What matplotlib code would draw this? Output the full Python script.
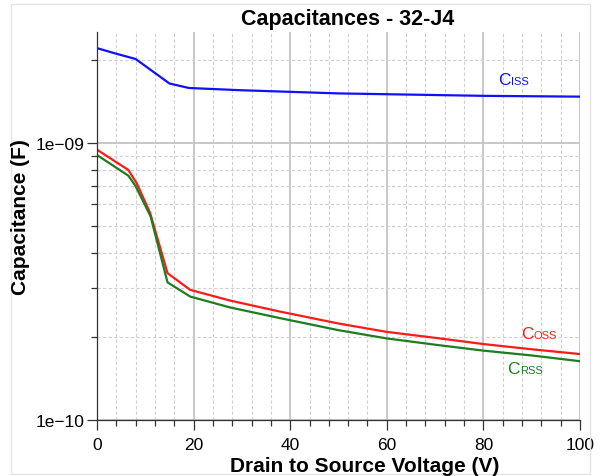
import matplotlib
matplotlib.use("Agg")
import matplotlib.pyplot as plt
from matplotlib.ticker import FixedLocator, NullFormatter, MultipleLocator
from matplotlib.patches import Rectangle

plt.rcParams['font.family'] = ['Liberation Sans', 'DejaVu Sans']

title = "Capacitances - 32-J4"
xlabel = "Drain to Source Voltage (V)"
ylabel = "Capacitance (F)"

ciss_v = [0, 4, 8, 15, 19, 30, 40, 50, 60, 70, 80, 90, 100]
ciss_c = [2.20e-9, 2.10e-9, 2.01e-9, 1.64e-9, 1.58e-9, 1.55e-9, 1.53e-9, 1.51e-9,
          1.50e-9, 1.49e-9, 1.48e-9, 1.475e-9, 1.47e-9]

coss_v = [0, 6.5, 8.3, 11, 14.6, 19.3, 27.5, 38, 50, 60, 70, 80, 90, 100]
coss_c = [9.46e-10, 7.99e-10, 7.11e-10, 5.59e-10, 3.39e-10, 2.95e-10, 2.70e-10,
          2.46e-10, 2.23e-10, 2.08e-10, 1.98e-10, 1.88e-10, 1.80e-10, 1.73e-10]

crss_v = [0, 6.5, 8, 11.1, 14.6, 19.3, 27.5, 38, 50, 60, 70, 80, 90, 100]
crss_c = [9.05e-10, 7.62e-10, 6.98e-10, 5.43e-10, 3.14e-10, 2.79e-10, 2.55e-10,
          2.33e-10, 2.11e-10, 1.97e-10, 1.87e-10, 1.78e-10, 1.71e-10, 1.63e-10]

xticks = [0, 20, 40, 60, 80, 100]
yticks = [1e-10, 1e-9]
ytick_labels = ["1e\u221210", "1e\u221209"]

fig = plt.figure(figsize=(6, 4.77), dpi=100)
fig.patches.append(Rectangle((11 / 600, 1 - 475 / 477), 579 / 600, 470 / 477,
                             transform=fig.transFigure, fill=False,
                             edgecolor='#e4e4e4', lw=1.0))

ax = fig.add_axes([97 / 600, 1 - 421 / 477, 483 / 600, 388 / 477])
ax.set_yscale('log')
ax.set_xlim(0, 100)
ax.set_ylim(1e-10, 2.516e-9)

ax.xaxis.set_major_locator(FixedLocator(xticks))
ax.xaxis.set_minor_locator(MultipleLocator(4))
ax.yaxis.set_major_locator(FixedLocator(yticks))
ax.yaxis.set_minor_locator(FixedLocator([k * 1e-10 for k in range(2, 10)] + [2e-9]))
ax.yaxis.set_minor_formatter(NullFormatter())
ax.set_yticklabels(ytick_labels)

ax.grid(True, which='major', color='#c4c4c4', lw=1.3, ls='-')
ax.grid(True, which='minor', color='#d0d0d0', lw=0.8, ls=(0, (3, 2)))
ax.set_axisbelow(True)

for s in ['top', 'right']:
    ax.spines[s].set_visible(False)
for s in ['left', 'bottom']:
    ax.spines[s].set_color('#333333')
    ax.spines[s].set_linewidth(0.9)

ax.tick_params(axis='x', which='major', length=7, width=0.9, color='#333333',
               labelsize=12.5, pad=5)
ax.tick_params(axis='y', which='major', length=7, width=0.9, color='#333333',
               labelsize=12.5, pad=2)
ax.tick_params(which='minor', length=4, width=0.9, color='#333333')

ax.plot(ciss_v, ciss_c, color='#1010ff', lw=1.6)
ax.plot(coss_v, coss_c, color='#ff1a1a', lw=1.6)
ax.plot(crss_v, crss_c, color='#1e7d1e', lw=1.6)

def cap_label(x, y, sub, color):
    ax.text(x, y, "C", color=color, fontsize=12.5, ha='right', va='baseline')
    ax.text(x, y, sub, color=color, fontsize=8, ha='left', va='baseline')

cap_label(85.7, 1.63e-9, "ISS", '#1010ff')
cap_label(90.3, 1.97e-10, "OSS", '#ff1a1a')
cap_label(87.6, 1.48e-10, "RSS", '#1e7d1e')

fig.text(348 / 600, 1 - 25 / 477, title, fontsize=15.5, fontweight='bold',
         ha='center', va='baseline')
fig.text(365 / 600, 1 - 472 / 477, xlabel, fontsize=15, fontweight='bold',
         ha='center', va='baseline')
fig.text(21 / 600, 1 - 217 / 477, ylabel, fontsize=15, fontweight='bold',
         ha='center', va='center', rotation=90)

fig.savefig("out.png", dpi=100)
